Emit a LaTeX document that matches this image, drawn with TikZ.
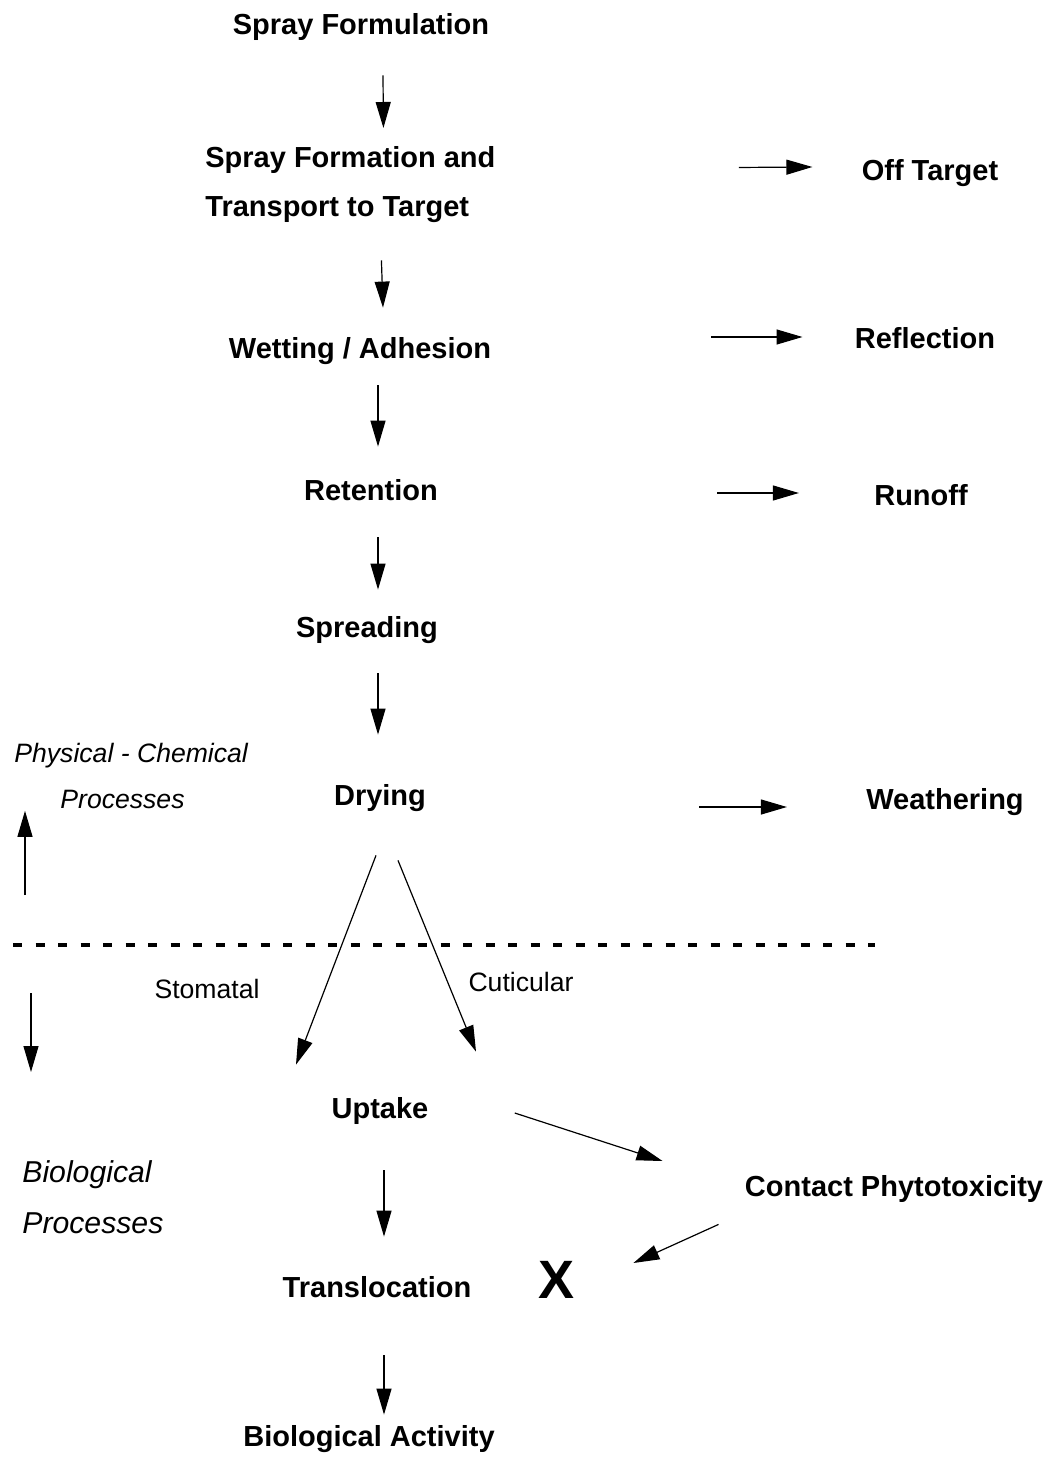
\documentclass[tikz,border=0pt]{standalone}
\usepackage{fontspec}
\setmainfont{Liberation Sans}
\usetikzlibrary{arrows.meta}
\tikzstyle{diagram} = [x = 0.5pt, y = -0.5pt]
\tikzstyle{stageBase} = [font=\fontsize{14.5}{24.5}\selectfont\bfseries, inner sep=0]
\tikzstyle{stageStyle} = [stageBase, text height=10.4pt, text depth=0pt]
\tikzstyle{routeText} = [font=\fontsize{13.3}{23}\selectfont, inner sep=0, text height=9.5pt, text depth=0pt]
\tikzstyle{regionText} = [font=\fontsize{13.3}{23}\selectfont\itshape, inner sep=0, align=left, anchor=north west]
\tikzstyle{flowLine} = [line width=0.6pt, -{Triangle[length=13pt, width=7.5pt]}]
\tikzstyle{dividerLine} = [line width=1.6pt, dash pattern=on 4.5pt off 6.75pt]
\newcommand{\flowArrow}[4]{\draw [flowLine] ([shift={#2}]#1) -- ([shift={#4}]#3);}

\begin{document}
\begin{tikzpicture}[diagram]
\useasboundingbox (0,0) rectangle (1051,1481);
% main sequence
\node [stageStyle] (formulation) at (361,24) {Spray Formulation};
\node [stageBase, align=left, anchor=north west] (formation) at (205,146) {Spray Formation and\\Transport to Target};
\node [stageStyle] (wetting) at (360,348) {Wetting / Adhesion};
\node [stageStyle] (retention) at (371,490) {Retention};
\node [stageStyle] (spreading) at (367,627) {Spreading};
\node [stageStyle] (drying) at (380,795) {Drying};
\node [stageStyle] (uptake) at (380,1108) {Uptake};
\node [stageStyle] (translocation) at (377,1287) {Translocation};
\node [stageStyle] (activity) at (369,1436) {Biological Activity};
% losses
\node [stageStyle] (offtarget) at (930,170) {Off Target};
\node [stageStyle] (reflection) at (925,338) {Reflection};
\node [stageStyle] (runoff) at (921,495) {Runoff};
\node [stageStyle] (weathering) at (945,799) {Weathering};
\node [stageStyle] (contact) at (894,1186) {Contact Phytotoxicity};
\node [font=\fontsize{27}{27}\selectfont\bfseries, inner sep=0, text height=19.3pt, text depth=0pt] (cross) at (556,1279.5) {X};
% route labels
\node [routeText] (stomatal) at (207,989) {Stomatal};
\node [routeText] (cuticular) at (521,982) {Cuticular};
% regions
\node [regionText] (physical) at (14,743) {Physical - Chemical\\\hspace*{23pt}Processes};
\node [regionText, font=\fontsize{15.1}{25.5}\selectfont\itshape] (biological) at (22,1160) {Biological\\Processes};
\coordinate (physTail) at (25,895);
\coordinate (bioTail) at (31,993);
\coordinate (bioTip) at (31,1072);
\draw [dividerLine] (13,945) -- (875,945);
% arrows
\flowArrow{formulation.south}{(22,40.6)}{formation.north}{(33,-18)}
\flowArrow{formation.south}{(31,37.5)}{wetting.north}{(23,-29.6)}
\flowArrow{wetting.south}{(18,26.6)}{retention.north}{(7,-32.6)}
\flowArrow{retention.south}{(7,36.6)}{spreading.north}{(11,-26.6)}
\flowArrow{spreading.south}{(11,35.6)}{drying.north}{(-2,-49.6)}
\flowArrow{drying.south}{(-4,49.6)}{uptake.north}{(-84,-32.6)}
\flowArrow{drying.south}{(18,54.6)}{uptake.north}{(96,-45.6)}
\flowArrow{uptake.south}{(4,51.6)}{translocation.north}{(7,-39.6)}
\flowArrow{translocation.south}{(7,57.6)}{activity.north}{(15,-10.6)}
\flowArrow{uptake.east}{(86,5)}{contact.west}{(-82,-25)}
\flowArrow{contact.south west}{(-26,27.6)}{cross.east}{(59,-16.5)}
\flowArrow{formation.east}{(243,-17)}{offtarget.west}{(-49,-3)}
\flowArrow{wetting.east}{(220,-11)}{reflection.west}{(-52,-1)}
\flowArrow{retention.east}{(279,3)}{runoff.west}{(-75,-2)}
\flowArrow{drying.east}{(273,12)}{weathering.west}{(-79,8)}
\flowArrow{physTail}{(0,0)}{physical.south west}{(11,1.5)}
\flowArrow{bioTail}{(0,0)}{bioTip}{(0,0)}
\end{tikzpicture}
\end{document}
